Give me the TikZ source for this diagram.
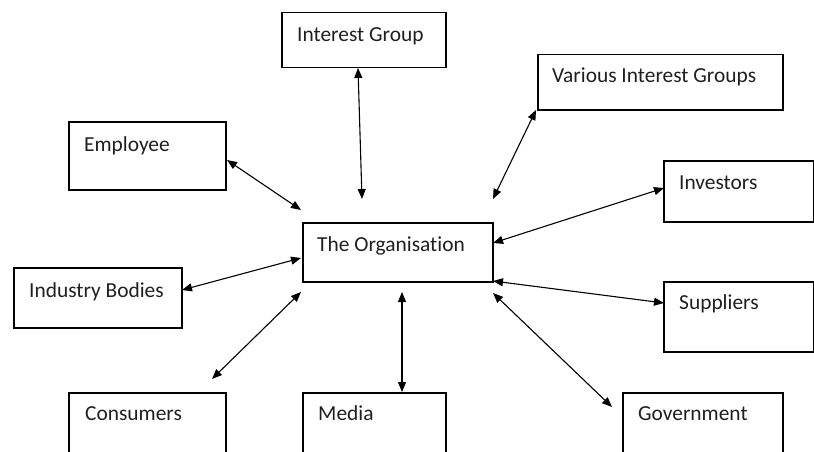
\documentclass[tikz,border=0pt]{standalone}
\usepackage{fontspec}
\setmainfont{Carlito}[Ligatures=NoCommon]
\usetikzlibrary{arrows.meta}
\begin{document}
\begin{tikzpicture}[x=1pt,y=-1pt,
  box/.style={draw=black,line width=1.5pt,anchor=north west,inner sep=0pt,minimum width=#1},
  lbl/.style={anchor=base west,inner sep=0pt,font=\fontsize{21.4}{25}\selectfont,text=black!88},
  link/.style={line width=1.1pt,{Triangle[length=10pt,width=8pt]}-{Triangle[length=10pt,width=8pt]}}]
\useasboundingbox (0,0) rectangle (814,452);
\clip (0,0) rectangle (814,452);
% boxes
\node[box=164pt,minimum height=55pt] (ig) at (281,12) {};
\node[box=245pt,minimum height=55pt] (vig) at (537,54) {};
\node[box=157pt,minimum height=68pt] (emp) at (68,121) {};
\node[box=150pt,minimum height=61pt] (inv) at (663,160) {};
\node[box=190pt,minimum height=59pt] (org) at (302,222) {};
\node[box=168pt,minimum height=60pt] (ind) at (13,267) {};
\node[box=150pt,minimum height=70pt] (sup) at (663,281) {};
\node[box=157pt,minimum height=80pt] (con) at (68,392) {};
\node[box=143pt,minimum height=80pt] (med) at (302,392) {};
\node[box=160pt,minimum height=80pt] (gov) at (622,392) {};
% labels
\node[lbl] (igT) at (297,42) {Interest Group};
\node[lbl] (vigT) at (552,83) {Various Interest Groups};
\node[lbl] (empT) at (84,151) {Employee};
\node[lbl] (invT) at (679,189) {Investors};
\node[lbl] (orgT) at (317,251) {The Organisation};
\node[lbl] (indT) at (29,297) {Industry Bodies};
\node[lbl] (supT) at (679,309) {Suppliers};
\node[lbl] (conT) at (85,420) {Consumers};
\node[lbl] (medT) at (318,420) {Media};
\node[lbl] (govT) at (638,420) {Government};
% arrow endpoints
\coordinate (a1) at (358,68);  \coordinate (b1) at (362,199);
\coordinate (a2) at (227,160); \coordinate (b2) at (301,210);
\coordinate (a3) at (536,110); \coordinate (b3) at (493,199);
\coordinate (a4) at (664,188); \coordinate (b4) at (493,243);
\coordinate (a5) at (182,290); \coordinate (b5) at (301,258);
\coordinate (a6) at (493,281); \coordinate (b6) at (664,303);
\coordinate (a7) at (212,379); \coordinate (b7) at (301,292);
\coordinate (a8) at (402,292); \coordinate (b8) at (402,392);
\coordinate (a9) at (493,293); \coordinate (b9) at (612,407);
\draw[link] (a1) -- (b1);
\draw[link] (a2) -- (b2);
\draw[link] (a3) -- (b3);
\draw[link] (a4) -- (b4);
\draw[link] (a5) -- (b5);
\draw[link] (a6) -- (b6);
\draw[link] (a7) -- (b7);
\draw[link] (a8) -- (b8);
\draw[link] (a9) -- (b9);
\end{tikzpicture}
\end{document}
